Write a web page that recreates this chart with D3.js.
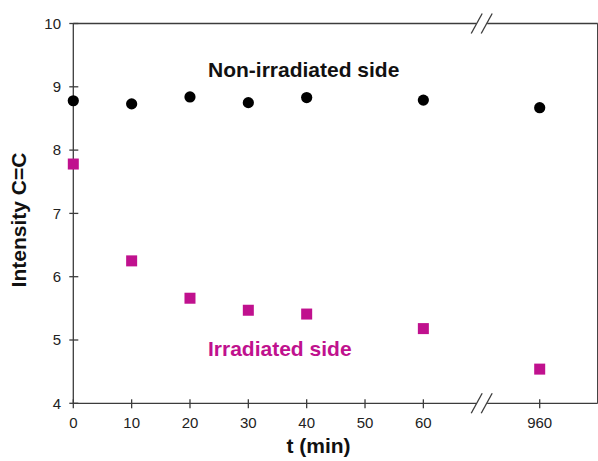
<!DOCTYPE html>
<html><head><meta charset="utf-8">
<script src="https://cdn.jsdelivr.net/npm/d3@7"></script>
<style>body{margin:0;background:#fff}svg{display:block}text{font-family:Arial,"Liberation Sans",sans-serif}</style>
</head><body>
<svg id="c" width="598" height="461"></svg>
<script>
const times = [0, 10, 20, 30, 40, 60, 960];
const nonIrradiated = [8.78, 8.73, 8.84, 8.75, 8.83, 8.79, 8.67];
const irradiated = [7.78, 6.25, 5.66, 5.47, 5.41, 5.18, 4.54];
const xTicks = [0, 10, 20, 30, 40, 50, 60, 960];
const yTicks = [4, 5, 6, 7, 8, 9, 10];
const magenta = "#c0118e";
const axisColor = "#3c3c3c";

(function () {
const svg = d3.select("#c");
const pL = 73.3, pR = 597.7, pT = 23.5, pB = 403.3, brk = 481.7;
const x = d3.scaleLinear().domain([0, 70, 950, 970]).range([pL, brk, brk, pR]);
const y = d3.scaleLinear().domain([4, 10]).range([pB, pT]);

const g = svg.append("g");
const gap = 5.5;
const line = (x1,y1,x2,y2)=>g.append("line").attr("x1",x1).attr("y1",y1).attr("x2",x2).attr("y2",y2)
  .attr("stroke",axisColor).attr("stroke-width",1.3);
line(pL, pT, pL, pB);
line(pL, pB, brk - gap, pB);
line(brk + gap, pB, pR, pB);
line(pL, pT, brk - gap, pT);
line(brk + gap, pT, pR, pT);
line(pR, pT, pR, pB);
[pT, pB].forEach(yy => {
  [-5, 5].forEach(off => {
    g.append("line").attr("x1", brk + off - 5.5).attr("y1", yy + 10).attr("x2", brk + off + 5.5).attr("y2", yy - 10)
      .attr("stroke", axisColor).attr("stroke-width", 1.3);
  });
});

yTicks.forEach(v => {
  line(pL - 4, y(v), pL + 5, y(v));
  g.append("text").attr("x", 61).attr("y", y(v) + 5.3).attr("text-anchor", "end")
    .attr("font-size", 15).attr("fill", "#222").text(v);
});
xTicks.forEach(v => {
  line(x(v), pB - 4, x(v), pB + 5);
  g.append("text").attr("x", x(v)).attr("y", 428).attr("text-anchor", "middle")
    .attr("font-size", 15).attr("fill", "#222").text(v);
});

svg.append("g").selectAll("circle").data(times).join("circle")
  .attr("cx", d => x(d)).attr("cy", (d, i) => y(nonIrradiated[i])).attr("r", 5.6).attr("fill", "#000");
const s = 11;
svg.append("g").selectAll("rect").data(times).join("rect")
  .attr("x", d => x(d) - s / 2).attr("y", (d, i) => y(irradiated[i]) - s / 2)
  .attr("width", s).attr("height", s).attr("fill", magenta);

svg.append("text").attr("x", 208).attr("y", 76.5).attr("font-size", 21).attr("font-weight", "bold")
  .attr("fill", "#111").text("Non-irradiated side");
svg.append("text").attr("x", 208).attr("y", 355.5).attr("font-size", 21).attr("font-weight", "bold")
  .attr("fill", magenta).text("Irradiated side");
svg.append("text").attr("x", 318.5).attr("y", 453).attr("text-anchor", "middle").attr("font-size", 21)
  .attr("font-weight", "bold").attr("fill", "#111").text("t (min)");
svg.append("text").attr("transform", "translate(25.5,220) rotate(-90)").attr("text-anchor", "middle")
  .attr("font-size", 21).attr("font-weight", "bold").attr("fill", "#111").text("Intensity C=C");
})();
</script>
</body></html>
